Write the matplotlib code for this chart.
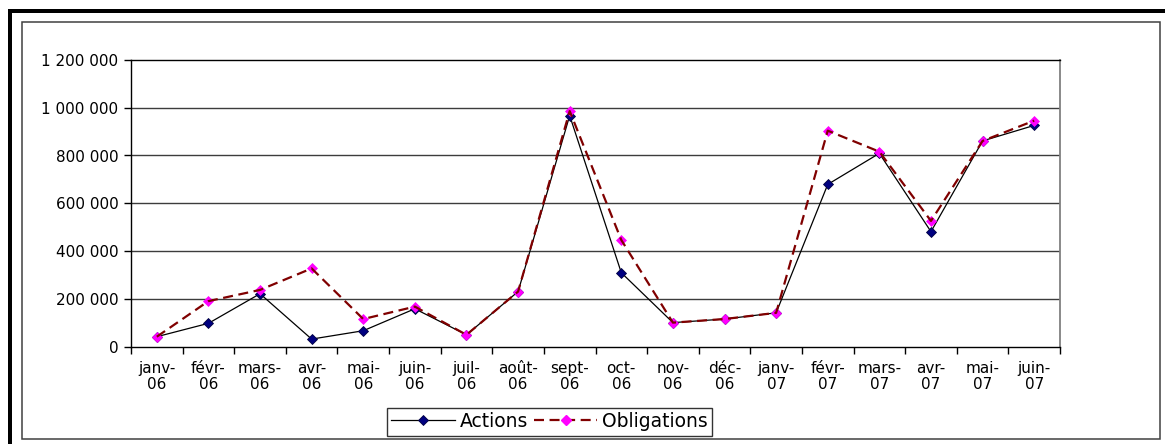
import matplotlib
matplotlib.use("Agg")
import matplotlib.pyplot as plt
from matplotlib.ticker import FuncFormatter, FixedLocator
from matplotlib.patches import Rectangle

plt.rcParams['font.family'] = ['DejaVu Sans']

months = ["janv-\n06", "févr-\n06", "mars-\n06", "avr-\n06", "mai-\n06", "juin-\n06",
          "juil-\n06", "août-\n06", "sept-\n06", "oct-\n06", "nov-\n06", "déc-\n06",
          "janv-\n07", "févr-\n07", "mars-\n07", "avr-\n07", "mai-\n07", "juin-\n07"]
actions = [41000, 97000, 221000, 31000, 66000, 158000, 49000, 230000, 967000,
           309000, 100000, 115000, 141000, 679000, 809000, 481000, 861000, 926000]
obligations = [41000, 190000, 237000, 327000, 115000, 167000, 49000, 230000, 986000,
               446000, 100000, 115000, 141000, 904000, 816000, 526000, 861000, 946000]
y_ticks = [0, 200000, 400000, 600000, 800000, 1000000, 1200000]

W, H = 1165, 444
fig = plt.figure(figsize=(W / 100, H / 100), dpi=100)
fig.patch.set_facecolor("white")

# outer heavy frame (left and top) and thin inner frame
fig.add_artist(Rectangle((8 / W, 0), 4 / W, (H - 9) / H, transform=fig.transFigure,
                         facecolor="black", edgecolor="none"))
fig.add_artist(Rectangle((8 / W, (H - 13) / H), (W - 8) / W, 4 / H, transform=fig.transFigure,
                         facecolor="black", edgecolor="none"))
fig.add_artist(Rectangle((22 / W, (H - 439) / H), (1160 - 22) / W, (439 - 22) / H,
                         transform=fig.transFigure, facecolor="none",
                         edgecolor="#404040", linewidth=1.1))

left, right, top, bottom = 131, 1060, 60, 346.5
ax = fig.add_axes([left / W, (H - bottom) / H, (right - left) / W, (bottom - top) / H])

x = list(range(len(months)))
ax.set_xlim(-0.5, len(months) - 0.5)
ax.set_ylim(0, 1200000)

for v in y_ticks[1:-1]:
    ax.axhline(v, color="#3c3c3c", linewidth=1.0, zorder=1)

dash = (0, (4.5, 2.5))

ax.plot(x, actions, color="black", linewidth=0.9, zorder=3)
ax.plot(x, actions, linestyle="none", marker="D", markersize=5,
        markerfacecolor="#000080", markeredgecolor="#000040", markeredgewidth=0.6, zorder=4)

ax.plot(x, obligations, linestyle="none", marker="D", markersize=5.5,
        markerfacecolor="#FF00FF", markeredgecolor="#FF00FF", markeredgewidth=0.5, zorder=5)
ax.plot(x, obligations, color="#800000", linewidth=1.6, linestyle=dash, zorder=6)

# legend handles
h1, = ax.plot([], [], color="black", linewidth=0.9, marker="D", markersize=5,
              markerfacecolor="#000080", markeredgecolor="#000040", markeredgewidth=0.6)
h2, = ax.plot([], [], color="#800000", linewidth=1.6, linestyle=dash, marker="D",
              markersize=5.5, markerfacecolor="#FF00FF", markeredgecolor="#FF00FF")
leg = fig.legend([h1, h2], ["Actions", "Obligations"], loc="center",
                 bbox_to_anchor=(549.5 / W, (H - 421.5) / H), ncol=2, frameon=True,
                 fancybox=False, shadow=False, fontsize=13.5, numpoints=1,
                 handlelength=3.4, handletextpad=0.25, columnspacing=0.3,
                 borderpad=0.24, borderaxespad=0)
leg.get_frame().set_edgecolor("black")
leg.get_frame().set_linewidth(1.0)

# axes styling
for s in ["left", "bottom", "top"]:
    ax.spines[s].set_color("black")
    ax.spines[s].set_linewidth(1.0)
ax.spines["right"].set_color("#808080")
ax.spines["right"].set_linewidth(1.3)

ax.yaxis.set_major_locator(FixedLocator(y_ticks))
ax.yaxis.set_major_formatter(FuncFormatter(lambda v, p: f"{int(v):,}".replace(",", " ")))
ax.tick_params(axis="y", direction="out", length=5, width=1, labelsize=11, pad=4, colors="black")

ax.set_xticks(x)
ax.set_xticklabels(months, fontsize=11, linespacing=1.1)
ax.tick_params(axis="x", which="major", length=0, pad=10.5)
ax.xaxis.set_minor_locator(FixedLocator([i - 0.5 for i in range(len(months) + 1)]))
ax.tick_params(axis="x", which="minor", direction="out", length=5, width=1, color="black")

fig.savefig("out.png", dpi=100, facecolor="white")
